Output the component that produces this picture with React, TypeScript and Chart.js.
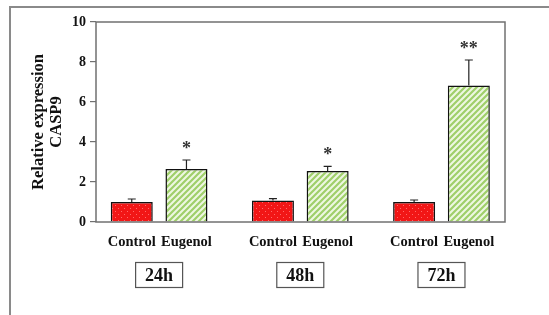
import React, { useEffect, useRef } from "react";
import { Chart, registerables } from "chart.js";

Chart.register(...registerables);

const groups = ["24h", "48h", "72h"];
const seriesNames = ["Control", "Eugenol"];
const controlValues = [1.0, 1.07, 1.0];
const controlErrors = [0.15, 0.1, 0.1];
const eugenolValues = [2.65, 2.55, 6.83];
const eugenolErrors = [0.45, 0.23, 1.27];
const significance = ["*", "*", "**"];
const yTicks = [0, 2, 4, 6, 8, 10];

const SERIF = "'Liberation Serif', 'Times New Roman', serif";

function makeRedPattern(ctx: CanvasRenderingContext2D) {
  const c = document.createElement("canvas");
  c.width = 6;
  c.height = 6;
  const g = c.getContext("2d")!;
  g.fillStyle = "#f21616";
  g.fillRect(0, 0, 6, 6);
  g.fillStyle = "#ff6a6a";
  g.fillRect(1, 1, 1, 1);
  g.fillRect(4, 4, 1, 1);
  return ctx.createPattern(c, "repeat")!;
}

function makeGreenPattern(ctx: CanvasRenderingContext2D) {
  const c = document.createElement("canvas");
  c.width = 6;
  c.height = 6;
  const g = c.getContext("2d")!;
  g.fillStyle = "#eef7e2";
  g.fillRect(0, 0, 6, 6);
  g.strokeStyle = "#9fcf6a";
  g.lineWidth = 2.2;
  g.beginPath();
  g.moveTo(-1, 7);
  g.lineTo(7, -1);
  g.moveTo(-2, 2);
  g.lineTo(2, -2);
  g.moveTo(4, 8);
  g.lineTo(8, 4);
  g.stroke();
  return ctx.createPattern(c, "repeat")!;
}

const decorPlugin = {
  id: "decor",
  beforeDraw(chart: any) {
    const { ctx } = chart;
    ctx.save();
    ctx.strokeStyle = "#8a8a8a";
    ctx.lineWidth = 2;
    ctx.beginPath();
    ctx.moveTo(10, 315);
    ctx.lineTo(10, 7);
    ctx.lineTo(549, 7);
    ctx.stroke();
    ctx.restore();
  },
  afterDatasetsDraw(chart: any) {
    const { ctx, chartArea, scales } = chart;
    const y = scales.y;
    const x = scales.x;
    ctx.save();
    // plot frame
    ctx.strokeStyle = "#707070";
    ctx.lineWidth = 1.5;
    ctx.strokeRect(chartArea.left, chartArea.top, chartArea.right - chartArea.left, chartArea.bottom - chartArea.top);

    const errs = [controlErrors, eugenolErrors];
    const vals = [controlValues, eugenolValues];
    chart.data.datasets.forEach((ds: any, di: number) => {
      const meta = chart.getDatasetMeta(di);
      meta.data.forEach((bar: any, i: number) => {
        const top = y.getPixelForValue(vals[di][i]);
        const errTop = y.getPixelForValue(vals[di][i] + errs[di][i]);
        ctx.strokeStyle = "#222";
        ctx.lineWidth = 1.2;
        ctx.beginPath();
        ctx.moveTo(bar.x, top);
        ctx.lineTo(bar.x, errTop);
        ctx.moveTo(bar.x - 4, errTop);
        ctx.lineTo(bar.x + 4, errTop);
        ctx.stroke();
        // series label under bar
        ctx.fillStyle = "#111";
        ctx.font = `bold 14.5px ${SERIF}`;
        ctx.textAlign = "center";
        ctx.textBaseline = "middle";
        ctx.fillText(ds.label, bar.x, chartArea.bottom + 20);
        if (di === 1) {
          ctx.fillStyle = "#333";
          ctx.font = `bold 18px ${SERIF}`;
          ctx.textBaseline = "alphabetic";
          ctx.fillText(significance[i], bar.x, errTop - 6);
        }
      });
    });

    // group boxes
    groups.forEach((g, i) => {
      const cx = x.getPixelForValue(i);
      const cy = chartArea.bottom + 53;
      ctx.strokeStyle = "#555";
      ctx.lineWidth = 1.2;
      ctx.strokeRect(cx - 23.5, cy - 12.5, 47, 25);
      ctx.fillStyle = "#111";
      ctx.font = `bold 18px ${SERIF}`;
      ctx.textAlign = "center";
      ctx.textBaseline = "middle";
      ctx.fillText(g, cx, cy + 1);
    });
    ctx.restore();
  },
};

export default function App() {
  const ref = useRef<HTMLCanvasElement>(null);
  useEffect(() => {
    const canvas = ref.current!;
    const ctx = canvas.getContext("2d")!;
    const chart = new Chart(canvas, {
      type: "bar",
      data: {
        datasets: [
          {
            label: seriesNames[0],
            data: controlValues.map((v, i) => ({ x: i, y: v })),
            backgroundColor: makeRedPattern(ctx),
            borderColor: "#111",
            borderWidth: 1.5,
          },
          {
            label: seriesNames[1],
            data: eugenolValues.map((v, i) => ({ x: i, y: v })),
            backgroundColor: makeGreenPattern(ctx),
            borderColor: "#111",
            borderWidth: 1.5,
          },
        ],
      },
      options: {
        responsive: false,
        animation: false,
        events: [],
        categoryPercentage: 0.775,
        barPercentage: 0.768,
        layout: { padding: { top: 22, right: 44, bottom: 0, left: 0 } },
        plugins: { legend: { display: false }, tooltip: { enabled: false } },
        scales: {
          x: {
            type: "linear",
            offset: false,
            min: -0.447,
            max: 2.45,
            afterBuildTicks: (s: any) => {
              s.ticks = groups.map((_, i) => ({ value: i }));
            },
            ticks: { display: false },
            grid: { display: false, offset: false },
            border: { display: false },
            afterFit: (s: any) => {
              s.height = 93;
            },
          },
          y: {
            min: 0,
            max: 10,
            afterBuildTicks: (s: any) => {
              s.ticks = yTicks.map((v) => ({ value: v }));
            },
            ticks: {
              color: "#111",
              font: { family: SERIF, size: 14, weight: "bold" },
              padding: 4,
            },
            grid: { drawOnChartArea: false, drawTicks: true, tickLength: 6, color: "#707070", lineWidth: 1.2 },
            border: { display: false },
            title: {
              display: true,
              text: ["Relative expression", "CASP9"],
              color: "#111",
              font: { family: SERIF, size: 16.5, weight: "bold", lineHeight: 1.06 },
              padding: { top: 30, bottom: 0 },
            },
            afterFit: (s: any) => {
              s.width = 96;
            },
          },
        },
      },
      plugins: [decorPlugin],
    });
    return () => chart.destroy();
  }, []);
  return (
    <div style={{ position: "absolute", left: 0, top: 0, width: 549, height: 315, background: "#fff" }}>
      <canvas ref={ref} width={549} height={315} />
    </div>
  );
}
